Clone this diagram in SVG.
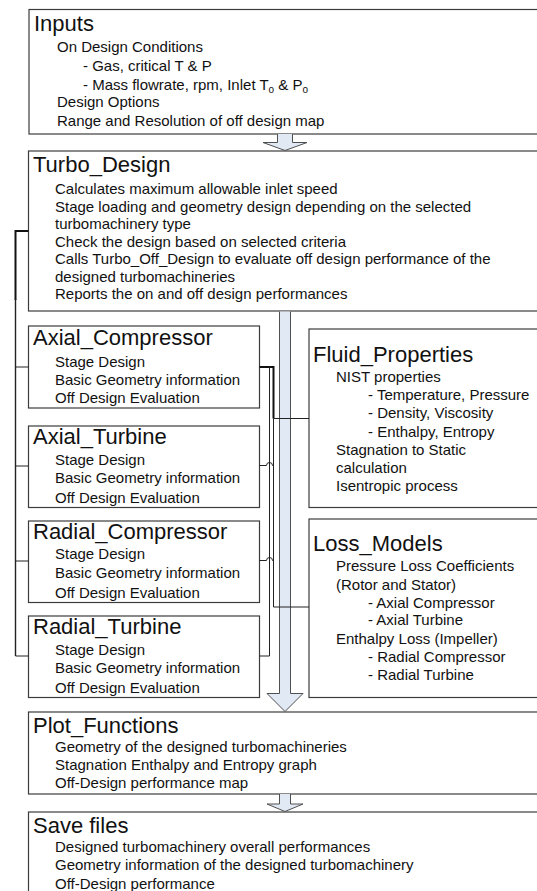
<svg xmlns="http://www.w3.org/2000/svg" width="537" height="891" viewBox="0 0 537 891">
<style>
.box{fill:#fff;stroke:#3c3c3c;stroke-width:1.2}
.t{font-family:"Liberation Sans",Arial,sans-serif;font-size:22px;fill:#111}
.b{font-family:"Liberation Sans",Arial,sans-serif;font-size:15px;fill:#111}
.sub{font-size:10px}
.arr{fill:#e1e9f5;stroke:#505050;stroke-width:1}
.c{fill:none;stroke:#222;stroke-width:1}
.ck{fill:none;stroke:#111;stroke-width:2}
</style>
<rect width="537" height="891" fill="#fff"/>
<g id="inputs">
<rect class="box" x="29" y="9.5" width="520" height="124.5"/>
<text class="t" x="34" y="31">Inputs</text>
<text class="b" x="57" y="52">On Design Conditions</text>
<text class="b" x="83" y="71">- Gas, critical T &amp; P</text>
<text class="b" x="83" y="90">- Mass flowrate, rpm, Inlet T<tspan class="sub" dy="3">o</tspan><tspan dy="-3"> &amp; P</tspan><tspan class="sub" dy="3">o</tspan></text>
<text class="b" x="57" y="107">Design Options</text>
<text class="b" x="57" y="126">Range and Resolution of off design map</text>
</g>
<g id="turbo_design">
<rect class="box" x="28.5" y="151" width="520" height="160"/>
<text class="t" x="33" y="172">Turbo_Design</text>
<text class="b" x="55" y="194">Calculates maximum allowable inlet speed</text>
<text class="b" x="55" y="212">Stage loading and geometry design depending on the selected</text>
<text class="b" x="55" y="229">turbomachinery type</text>
<text class="b" x="55" y="247">Check the design based on selected criteria</text>
<text class="b" x="55" y="264">Calls Turbo_Off_Design to evaluate off design performance of the</text>
<text class="b" x="55" y="282">designed turbomachineries</text>
<text class="b" x="55" y="299">Reports the on and off design performances</text>
</g>
<g id="axial_compressor">
<rect class="box" x="28.5" y="326" width="231" height="82"/>
<text class="t" x="33" y="345">Axial_Compressor</text>
<text class="b" x="55" y="367">Stage Design</text>
<text class="b" x="55" y="385">Basic Geometry information</text>
<text class="b" x="55" y="403">Off Design Evaluation</text>
</g>
<g id="axial_turbine">
<rect class="box" x="28.5" y="426" width="231" height="81.5"/>
<text class="t" x="33" y="444">Axial_Turbine</text>
<text class="b" x="55" y="465">Stage Design</text>
<text class="b" x="55" y="483">Basic Geometry information</text>
<text class="b" x="55" y="502.5">Off Design Evaluation</text>
</g>
<g id="radial_compressor">
<rect class="box" x="28.5" y="521" width="231" height="81.5"/>
<text class="t" x="33" y="539">Radial_Compressor</text>
<text class="b" x="55" y="559">Stage Design</text>
<text class="b" x="55" y="577.5">Basic Geometry information</text>
<text class="b" x="55" y="598">Off Design Evaluation</text>
</g>
<g id="radial_turbine">
<rect class="box" x="28.5" y="616" width="231" height="81.5"/>
<text class="t" x="33" y="634">Radial_Turbine</text>
<text class="b" x="55" y="655">Stage Design</text>
<text class="b" x="55" y="672.5">Basic Geometry information</text>
<text class="b" x="55" y="692.5">Off Design Evaluation</text>
</g>
<g id="fluid_properties">
<rect class="box" x="309" y="329" width="240" height="178.5"/>
<text class="t" x="313" y="362">Fluid_Properties</text>
<text class="b" x="336" y="382">NIST properties</text>
<text class="b" x="368" y="399.5">- Temperature, Pressure</text>
<text class="b" x="368" y="418">- Density, Viscosity</text>
<text class="b" x="368" y="436.5">- Enthalpy, Entropy</text>
<text class="b" x="336" y="455">Stagnation to Static</text>
<text class="b" x="336" y="472.5">calculation</text>
<text class="b" x="336" y="490.5">Isentropic process</text>
</g>
<g id="loss_models">
<rect class="box" x="309" y="519" width="240" height="178.5"/>
<text class="t" x="313" y="551">Loss_Models</text>
<text class="b" x="336" y="571">Pressure Loss Coefficients</text>
<text class="b" x="336" y="589.5">(Rotor and Stator)</text>
<text class="b" x="368" y="607.5">- Axial Compressor</text>
<text class="b" x="368" y="625">- Axial Turbine</text>
<text class="b" x="336" y="644">Enthalpy Loss (Impeller)</text>
<text class="b" x="368" y="661.5">- Radial Compressor</text>
<text class="b" x="368" y="679.5">- Radial Turbine</text>
</g>
<g id="plot_functions">
<rect class="box" x="28.5" y="712" width="520" height="82"/>
<text class="t" x="33" y="732.5">Plot_Functions</text>
<text class="b" x="55" y="752">Geometry of the designed turbomachineries</text>
<text class="b" x="55" y="769.5">Stagnation Enthalpy and Entropy graph</text>
<text class="b" x="55" y="787.5">Off-Design performance map</text>
</g>
<g id="save_files">
<rect class="box" x="28.5" y="812" width="520" height="100"/>
<text class="t" x="33" y="832.5">Save files</text>
<text class="b" x="55" y="852">Designed turbomachinery overall performances</text>
<text class="b" x="55" y="869.5">Geometry information of the designed turbomachinery</text>
<text class="b" x="55" y="888.5">Off-Design performance</text>
</g>
<g id="connectors">
<path class="arr" d="M277.5 134 V142.5 H263 L285 150.5 L307 142.5 H292.5 V134"/>
<path class="arr" d="M279.5 311.5 V693.5 H267 L285 711.5 L303 693.5 H290.5 V311.5"/>
<path class="arr" d="M279.5 794 V804 H267 L285 811.5 L303 804 H290.5 V794"/>
<path class="ck" d="M28.5 231 H15.5 V300"/>
<path class="c" style="stroke-width:1.4" d="M15.5 299 V656"/>
<path class="c" d="M15.5 367 H28.5 M15.5 466 H28.5 M15.5 561 H28.5 M15.5 656 H28.5"/>
<path class="ck" d="M259.5 367 H273.5 V418.5"/>
<path class="c" d="M273.5 418.5 H309"/>
<path class="c" d="M269.5 367 V656 H259.5"/>
<path class="c" d="M273.5 418.5 V607 H309"/>
<path class="c" d="M259.5 465.5 H266.5 A3 3 0 0 1 272.5 465.5 H273.5"/>
<path class="c" d="M259.5 560.5 H266.5 A3 3 0 0 1 272.5 560.5 H273.5"/>
</g>
</svg>
